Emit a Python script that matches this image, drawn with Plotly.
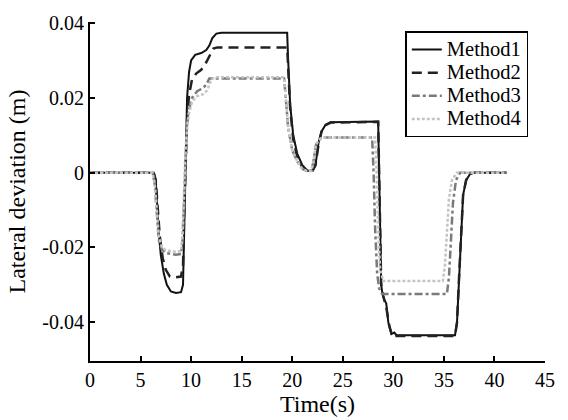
import plotly.graph_objects as go

# ---- data ----
t1 = [0, 6.3, 6.5, 6.6, 6.8, 7.0, 7.3, 7.6, 8.0, 8.5, 9.0, 9.2, 9.3, 9.4, 9.5, 9.6, 9.8, 10.0, 10.4, 11.0,
      11.5, 11.8, 12.1, 12.5, 13.0, 19.5, 19.6, 19.8, 20.1, 20.5, 21.0, 21.5, 22.0, 22.3, 22.6, 22.9, 23.3,
      23.8, 28.5, 28.6, 28.7, 28.8, 28.9, 29.1, 29.3, 29.5, 29.8, 30.1, 30.3, 36.1, 36.3, 36.5, 36.7, 36.9,
      37.2, 37.6, 38.0, 41.2]
m1 = [0, 0, -0.002, -0.008, -0.016, -0.022, -0.027, -0.030, -0.0318, -0.0322, -0.032, -0.030, -0.018,
      -0.002, 0.010, 0.020, 0.027, 0.030, 0.0315, 0.032, 0.0328, 0.034, 0.036, 0.0372, 0.0374, 0.0374,
      0.030, 0.018, 0.010, 0.005, 0.002, 0.0005, 0.0005, 0.002, 0.008, 0.011, 0.0128, 0.0135, 0.0137,
      0.000, -0.020, -0.030, -0.032, -0.034, -0.035, -0.040, -0.0432, -0.0428, -0.0435, -0.0435, -0.040,
      -0.028, -0.015, -0.006, -0.002, -0.0003, 0, 0]

t2 = [0, 6.3, 6.5, 6.7, 6.9, 7.2, 7.5, 7.9, 8.5, 9.0, 9.2, 9.3, 9.45, 9.6, 9.8, 10.1, 10.5, 11.0, 11.4,
      11.8, 12.2, 12.6, 19.5, 19.6, 19.8, 20.1, 20.5, 21.0, 21.5, 22.0, 22.3, 22.6, 22.9, 23.3, 23.8, 28.5,
      28.6, 28.7, 28.8, 29.0, 29.3, 29.6, 29.9, 36.1, 36.3, 36.5, 36.7, 36.9, 37.2, 37.6, 38.0, 41.2]
m2 = [0, 0, -0.002, -0.010, -0.017, -0.023, -0.026, -0.0278, -0.028, -0.0278, -0.025, -0.012, 0.002,
      0.014, 0.021, 0.025, 0.0265, 0.0275, 0.029, 0.031, 0.0332, 0.0335, 0.0335, 0.028, 0.017, 0.009,
      0.004, 0.0015, 0.0004, 0.0004, 0.002, 0.0075, 0.011, 0.0127, 0.0134, 0.0136, 0.000, -0.020, -0.030,
      -0.033, -0.036, -0.041, -0.0437, -0.0437, -0.040, -0.028, -0.015, -0.006, -0.002, -0.0003, 0, 0]

t3 = [0, 6.2, 6.4, 6.6, 6.8, 7.1, 7.5, 8.5, 9.0, 9.15, 9.3, 9.45, 9.6, 9.8, 10.1, 10.6, 11.1, 11.5, 11.8,
      19.2, 19.35, 19.6, 20.0, 20.5, 21.0, 21.5, 21.9, 22.1, 22.3, 22.6, 23.0, 27.9, 28.05, 28.2, 28.4,
      28.6, 28.9, 35.3, 35.5, 35.7, 35.9, 36.2, 36.6, 41.2]
m3 = [0, 0, -0.003, -0.012, -0.018, -0.0205, -0.0215, -0.022, -0.0218, -0.018, -0.006, 0.006, 0.013,
      0.017, 0.020, 0.0218, 0.0225, 0.0235, 0.0252, 0.0252, 0.020, 0.012, 0.006, 0.003, 0.001, 0.0003,
      0.0005, 0.003, 0.007, 0.0088, 0.0094, 0.0094, 0.000, -0.015, -0.027, -0.031, -0.0325, -0.0325,
      -0.028, -0.018, -0.008, -0.002, 0, 0]

t4 = [0, 6.2, 6.4, 6.6, 6.8, 7.1, 7.5, 8.5, 9.0, 9.15, 9.3, 9.45, 9.6, 9.8, 10.1, 10.6, 11.2, 11.6, 12.0,
      12.4, 19.2, 19.35, 19.6, 20.0, 20.5, 21.0, 21.5, 21.9, 22.1, 22.3, 22.6, 23.0, 28.2, 28.35, 28.5,
      28.7, 29.0, 34.9, 35.1, 35.3, 35.5, 35.8, 36.3, 41.2]
m4 = [0, 0, -0.003, -0.011, -0.017, -0.0198, -0.0208, -0.0212, -0.021, -0.017, -0.005, 0.006, 0.012,
      0.016, 0.019, 0.0205, 0.021, 0.022, 0.025, 0.0255, 0.0255, 0.020, 0.012, 0.006, 0.003, 0.001,
      0.0003, 0.0005, 0.003, 0.007, 0.0088, 0.0094, 0.0094, 0.000, -0.015, -0.026, -0.029, -0.029,
      -0.025, -0.016, -0.007, -0.002, 0, 0]

names = ["Method1", "Method2", "Method3", "Method4"]
xtick_vals = [0, 5, 10, 15, 20, 25, 30, 35, 40, 45]
ytick_vals = [0.04, 0.02, 0, -0.02, -0.04]
ytick_text = ["0.04", "0.02", "0", "-0.02", "-0.04"]

FONT = "'Liberation Serif', 'Times New Roman', serif"

fig = go.Figure()
styles = [
    dict(color="#111111", width=2, dash="solid"),
    dict(color="#222222", width=2.5, dash="10px,6px"),
    dict(color="#7a7a7a", width=2.5, dash="8px,3px,3px,3px"),
    dict(color="#c4c4c4", width=2.5, dash="3px,2px"),
]
for (tx, vy), nm, st in zip([(t1, m1), (t2, m2), (t3, m3), (t4, m4)], names, styles):
    fig.add_trace(go.Scatter(x=tx, y=vy, mode="lines", line=st,
                             name=f"<span style='font-size:20.5px'>{nm}</span>"))

fig.update_layout(
    width=568, height=420,
    margin=dict(l=90, r=23, t=14, b=58),
    paper_bgcolor="white", plot_bgcolor="white",
    font=dict(family=FONT, size=20, color="black"),
    showlegend=True,
    legend=dict(x=0.693, y=0.972, xanchor="left", yanchor="top",
                bordercolor="black", borderwidth=1.5, bgcolor="white",
                font=dict(family=FONT, size=15.5, color="black"),
                tracegroupgap=0, itemwidth=30),
)
fig.update_xaxes(range=[0, 45], tickvals=xtick_vals, ticks="inside", ticklen=5, tickwidth=1.5,
                 tickcolor="black", showline=True, linecolor="black", linewidth=2, showgrid=False,
                 zeroline=False, title=dict(text="Time(s)", standoff=0),
                 tickfont=dict(family=FONT, size=20))
fig.update_yaxes(range=[-0.0504, 0.0403], tickvals=ytick_vals, ticktext=ytick_text, ticks="inside",
                 ticklen=5, tickwidth=1.5, tickcolor="black", showline=True, linecolor="black",
                 linewidth=2, showgrid=False, zeroline=False,
                 title=dict(text="Lateral deviation (m)", standoff=10),
                 tickfont=dict(family=FONT, size=20))

fig.write_html("out.html")
